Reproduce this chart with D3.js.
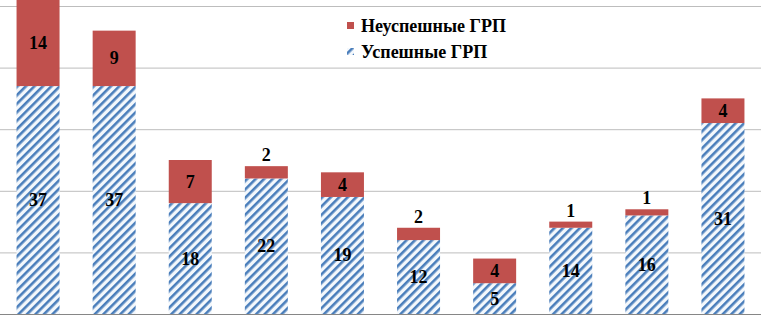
<!DOCTYPE html>
<html><head><meta charset="utf-8">
<script src="https://cdn.jsdelivr.net/npm/d3@7"></script>
<style>
@font-face{font-family:"RefSerif";font-weight:bold;src:local("Liberation Serif Bold"),local("LiberationSerif-Bold"),local("Times New Roman Bold");}
</style>
</head><body style="margin:0">
<svg id="c" width="761" height="316"></svg>
<script>
const categories = ["1","2","3","4","5","6","7","8","9","10"];
const success = [37,37,18,22,19,12,5,14,16,31];
const fail = [14,9,7,2,4,2,4,1,1,4];
const yTicks = [0,10,20,30,40,50];
const seriesNames = ["Неуспешные ГРП","Успешные ГРП"];

const svg = d3.select("#c");
const W = 761, H = 316;
const x = d3.scaleBand().domain(categories).range([0, W]).paddingInner(0.435).paddingOuter(0.2175);
const y = d3.scaleLinear().domain([0, 50]).range([314, 6]);

function txt(size){
  return svg.append("text")
    .style("font-family",'"Liberation Serif", RefSerif, "Times New Roman", serif')
    .style("font-weight","bold").style("font-size",size+"px").attr("fill","#000");
}

// gridlines
svg.append("g").selectAll("line").data(yTicks.filter(d=>d>0)).join("line")
  .attr("x1",0).attr("x2",W).attr("y1",d=>y(d)+0.5).attr("y2",d=>y(d)+0.5)
  .attr("stroke","#bdbdbd").attr("stroke-width",1);

const defs = svg.append("defs");
const pat = defs.append("pattern").attr("id","hatch").attr("patternUnits","userSpaceOnUse")
  .attr("width",6).attr("height",6).attr("patternTransform","rotate(45)");
pat.append("rect").attr("width",6).attr("height",6).attr("fill","#f4f8fc");
pat.append("rect").attr("x",0).attr("width",2.6).attr("height",6).attr("fill","#4a7ebb");

// bars
categories.forEach((c,i)=>{
  const s = success[i], f = fail[i];
  svg.append("rect").attr("x",x(c)).attr("width",x.bandwidth())
    .attr("y",y(s)).attr("height",y(0)-y(s)).attr("fill","url(#hatch)");
  svg.append("rect").attr("x",x(c)).attr("width",x.bandwidth())
    .attr("y",y(s+f)).attr("height",y(s)-y(s+f)).attr("fill","#c0504d");
});

// baseline
svg.append("line").attr("x1",0).attr("x2",W).attr("y1",y(0)+0.5).attr("y2",y(0)+0.5)
  .attr("stroke","#868686").attr("stroke-width",1.2);

// legend
svg.append("rect").attr("x",347).attr("y",22).attr("width",7).attr("height",7).attr("fill","#c0504d");
txt(18).attr("x",361).attr("y",32).text(seriesNames[0]);
svg.append("rect").attr("x",347).attr("y",48).attr("width",7).attr("height",7).attr("fill","url(#hatch)");
txt(18).attr("x",361).attr("y",58).text(seriesNames[1]);

// labels
categories.forEach((c,i)=>{
  const s = success[i], f = fail[i];
  const cx = x(c)+x.bandwidth()/2;
  txt(18).attr("text-anchor","middle").attr("x",cx).attr("y",(y(0)+y(s))/2+6).text(s);
  if (f <= 2) {
    txt(18).attr("text-anchor","middle").attr("x",cx).attr("y",y(s+f)-5).text(f);
  } else {
    txt(18).attr("text-anchor","middle").attr("x",cx).attr("y",(y(s)+y(s+f))/2+6).text(f);
  }
});
</script>
</body></html>
